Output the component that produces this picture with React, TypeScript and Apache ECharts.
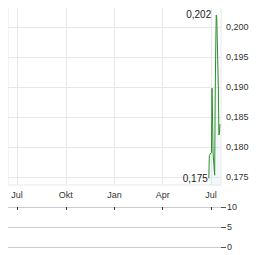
import React, { useEffect, useRef } from "react";
import * as echarts from "echarts";

const dates = [
  "2024-06-27", "2024-06-28", "2024-07-01", "2024-07-02", "2024-07-03",
  "2024-07-04", "2024-07-05", "2024-07-08", "2024-07-09", "2024-07-10",
  "2024-07-11", "2024-07-12", "2024-07-15", "2024-07-16", "2024-07-17",
  "2024-07-18",
];
const prices = [
  0.1748, 0.1786, 0.1790, 0.1791, 0.1898,
  0.1850, 0.1790, 0.1753, 0.1880, 0.1960,
  0.2020, 0.2016, 0.1900, 0.1820, 0.1822,
  0.1838,
];
const volumes = [0, 0, 0, 0, 0, 0, 0, 0, 0, 0, 0, 0, 0, 0, 0, 0];
const monthTicks = ["2023-07-01", "2023-10-01", "2024-01-01", "2024-04-01", "2024-07-01"];
const monthNames = ["Jan", "Feb", "Mär", "Apr", "Mai", "Jun", "Jul", "Aug", "Sep", "Okt", "Nov", "Dez"];
const priceTicks = [0.175, 0.18, 0.185, 0.19, 0.195, 0.2];
const volumeTicks = [0, 5, 10];
const xRange = ["2023-06-14", "2024-07-20"];
const yRange = [0.17367, 0.20333];

const fmt = (v: number) => v.toFixed(3).replace(".", ",");
const ts = (d: string) => new Date(d + "T00:00:00Z").getTime();
const FONT = "'Liberation Sans', Arial, sans-serif";

export default function App() {
  const ref = useRef<HTMLDivElement>(null);
  useEffect(() => {
    const chart = echarts.init(ref.current!, null, { renderer: "svg" });
    const tickTimes = monthTicks.map(ts);
    const priceData = dates.map((d, i) => [ts(d), prices[i]]);
    const volData = dates.map((d, i) => [ts(d), volumes[i]]);
    chart.setOption({
      animation: false,
      textStyle: { fontFamily: FONT },
      grid: [
        { left: 8, right: 43, top: 7, height: 178, show: true, borderColor: "#e8e8e8", borderWidth: 1, outerBoundsMode: "none" },
        { left: 8, right: 43, top: 207, height: 40, outerBoundsMode: "none" },
      ],
      xAxis: [
        {
          type: "value",
          gridIndex: 0,
          min: ts(xRange[0]),
          max: ts(xRange[1]),
          axisLine: { show: false, onZero: false },
          axisTick: { show: false, customValues: tickTimes },
          axisLabel: {
            customValues: tickTimes,
            fontSize: 9,
            color: "#333",
            margin: 5,
            fontFamily: FONT,
            formatter: (v: number) => monthNames[new Date(v).getUTCMonth()],
          },
          splitLine: { show: true, lineStyle: { color: "#e8e8e8", width: 1 } },
        },
        {
          type: "value",
          gridIndex: 1,
          position: "top",
          min: ts(xRange[0]),
          max: ts(xRange[1]),
          axisLine: { show: false, onZero: false },
          axisTick: { show: true, inside: true, length: 3, customValues: tickTimes, lineStyle: { color: "#333" } },
          axisLabel: { show: false, customValues: tickTimes },
          splitLine: { show: false },
        },
      ],
      yAxis: [
        {
          type: "value",
          gridIndex: 0,
          position: "right",
          min: yRange[0],
          max: yRange[1],
          axisLine: { show: false, onZero: false },
          axisTick: { show: false, customValues: priceTicks },
          axisLabel: {
            customValues: priceTicks,
            fontSize: 9,
            color: "#333",
            margin: 5,
            fontFamily: FONT,
            formatter: (v: number) => fmt(v),
          },
          splitLine: { show: true, lineStyle: { color: "#e8e8e8", width: 1 } },
        },
        {
          type: "value",
          gridIndex: 1,
          position: "right",
          min: volumeTicks[0],
          max: volumeTicks[volumeTicks.length - 1],
          interval: 5,
          axisLine: { show: false, onZero: false },
          axisTick: { show: true, length: 5, lineStyle: { color: "#555" } },
          axisLabel: { fontSize: 9, color: "#333", margin: 6, fontFamily: FONT },
          splitLine: { show: true, lineStyle: { color: "#cccccc", width: 1 } },
        },
      ],
      series: [
        {
          type: "line",
          xAxisIndex: 0,
          yAxisIndex: 0,
          data: priceData,
          symbol: "none",
          lineStyle: { color: "#2f8f2f", width: 1 },
          areaStyle: { color: "rgba(215,228,240,0.45)" },
          markPoint: {
            symbol: "circle",
            symbolSize: 0,
            label: {
              show: true,
              position: "left",
              distance: 2,
              fontSize: 10,
              color: "#222",
              fontFamily: FONT,
              formatter: (p: any) => fmt(p.value),
            },
            data: [
              { type: "max", label: { distance: 5 } },
              { type: "min", label: { distance: 1 } },
            ],
          },
        },
        {
          type: "bar",
          xAxisIndex: 1,
          yAxisIndex: 1,
          data: volData,
          itemStyle: { color: "#8aa" },
        },
      ],
    });
    return () => chart.dispose();
  }, []);
  return <div ref={ref} style={{ width: 264, height: 255, marginLeft: -8, marginTop: -8 }} />;
}
